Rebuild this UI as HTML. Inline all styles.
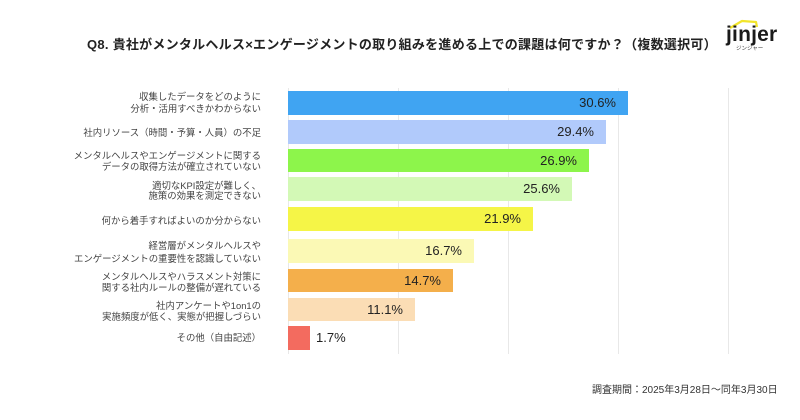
<!DOCTYPE html>
<html>
<head>
<meta charset="utf-8">
<style>
  html, body { margin:0; padding:0; background:#fff; }
  body { width:800px; height:420px; position:relative; overflow:hidden;
         font-family:"Liberation Sans","Noto Sans CJK JP",sans-serif; }
  .title { position:absolute; left:87px; top:36px; font-size:13px; font-weight:bold; color:#222;
           white-space:nowrap; line-height:18px; letter-spacing:0.26px; }
  .grid { position:absolute; top:88px; width:1px; height:266px; background:#e8e8e8; }
  .bar { position:absolute; left:288px; height:23.5px; }
  .val { position:absolute; font-size:13px; color:#222; line-height:16px; white-space:nowrap;
         font-family:"Liberation Sans",sans-serif; }
  .lab { position:absolute; right:539px; font-size:9.4px; color:#444; line-height:12px;
         white-space:nowrap; text-align:right; font-family:"Liberation Sans","Noto Sans CJK JP",sans-serif; }
  .date { position:absolute; left:592px; top:384px; font-size:10px; color:#333; line-height:14px; white-space:nowrap; }
  .logo { position:absolute; left:726px; top:24px; font-size:21px; font-weight:bold; color:#1a1a1a;
          font-family:"Liberation Sans",sans-serif; line-height:22px; letter-spacing:0.2px; }
  .logosub { position:absolute; left:736px; top:46px; font-size:5.5px; color:#333; line-height:7px; white-space:nowrap; }
</style>
</head>
<body>
  <div class="title">Q8. 貴社がメンタルヘルス×エンゲージメントの取り組みを進める上での課題は何ですか？（複数選択可）</div>

  <svg style="position:absolute;left:726px;top:17px" width="40" height="14">
    <polyline points="4,11 16,4 30,5 31,10" fill="none" stroke="#f2e52a" stroke-width="2.2" stroke-linejoin="round"/>
  </svg>
  <div class="logo">jinjer</div>
  <div class="logosub">ジンジャー</div>

  <div class="grid" style="left:288px"></div>
  <div class="grid" style="left:398px"></div>
  <div class="grid" style="left:508px"></div>
  <div class="grid" style="left:618px"></div>
  <div class="grid" style="left:728px"></div>

  <div class="bar" style="top:91px;width:340px;background:#40A4F2"></div>
  <div class="bar" style="top:120px;width:318px;background:#B1CAFB"></div>
  <div class="bar" style="top:148.7px;width:301px;background:#8DF54B"></div>
  <div class="bar" style="top:177.3px;width:284px;background:#D3F9B6"></div>
  <div class="bar" style="top:207.3px;width:245px;background:#F5F547"></div>
  <div class="bar" style="top:239px;width:186px;background:#FBF9B5"></div>
  <div class="bar" style="top:268.7px;width:165px;background:#F4AF4B"></div>
  <div class="bar" style="top:297.7px;width:127px;background:#FBDDB5"></div>
  <div class="bar" style="top:326px;width:22px;background:#F36B5F"></div>

  <div class="val" style="right:184px;top:95px">30.6%</div>
  <div class="val" style="right:206px;top:124px">29.4%</div>
  <div class="val" style="right:223px;top:152.5px">26.9%</div>
  <div class="val" style="right:240px;top:181px">25.6%</div>
  <div class="val" style="right:279px;top:211px">21.9%</div>
  <div class="val" style="right:338px;top:243px">16.7%</div>
  <div class="val" style="right:359px;top:272.5px">14.7%</div>
  <div class="val" style="right:397px;top:301.5px">11.1%</div>
  <div class="val" style="left:316px;top:330px">1.7%</div>

  <div class="lab" style="top:90.7px">収集したデータをどのように</div>
  <div class="lab" style="top:103.3px">分析・活用すべきかわからない</div>
  <div class="lab" style="top:127.3px">社内リソース（時間・予算・人員）の不足</div>
  <div class="lab" style="top:150.3px">メンタルヘルスやエンゲージメントに関する</div>
  <div class="lab" style="top:161.3px">データの取得方法が確立されていない</div>
  <div class="lab" style="top:179.5px">適切なKPI設定が難しく、</div>
  <div class="lab" style="top:190.2px">施策の効果を測定できない</div>
  <div class="lab" style="top:215px">何から着手すればよいのか分からない</div>
  <div class="lab" style="top:239.7px">経営層がメンタルヘルスや</div>
  <div class="lab" style="top:253.3px">エンゲージメントの重要性を認識していない</div>
  <div class="lab" style="top:271.3px">メンタルヘルスやハラスメント対策に</div>
  <div class="lab" style="top:282.3px">関する社内ルールの整備が遅れている</div>
  <div class="lab" style="top:300px">社内アンケートや1on1の</div>
  <div class="lab" style="top:310.7px">実施頻度が低く、実態が把握しづらい</div>
  <div class="lab" style="top:332.3px">その他（自由記述）</div>

  <div class="date">調査期間：2025年3月28日～同年3月30日</div>
</body>
</html>
